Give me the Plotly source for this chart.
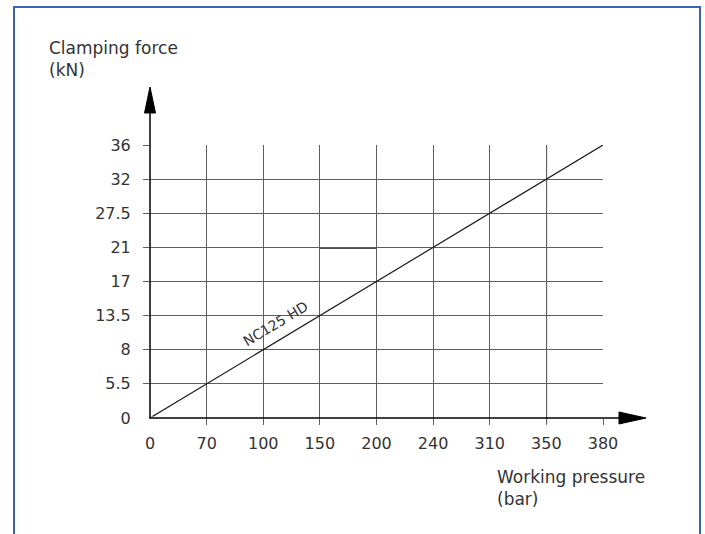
import plotly.graph_objects as go

# ---- data ----
pressure_labels = ["0", "70", "100", "150", "200", "240", "310", "350", "380"]   # bar
force_labels = ["0", "5.5", "8", "13.5", "17", "21", "27.5", "32", "36"]          # kN
series_name = "NC125 HD"
series_pressure = ["0", "70", "100", "150", "200", "240", "310", "350", "380"]
series_force = ["0", "5.5", "8", "13.5", "17", "21", "27.5", "32", "36"]
x_title = "Working pressure<br>(bar)"
y_title = "Clamping force<br>(kN)"

# ---- layout geometry (pixels) ----
W, H = 705, 534
L, R, T, B = 150, 102, 145, 116
PW, PH = W - L - R, H - T - B


def px(x):
    return (x - L) / PW


def py(y):
    return (H - B - y) / PH


FONT = "DejaVu Sans"
TXT = "#333333"
GRID = "#5e5e5e"
BLUE = "#3d64b4"

fig = go.Figure()
fig.add_trace(go.Scatter(
    x=series_pressure, y=series_force, mode="lines", name=series_name,
    line=dict(color="#1a1a1a", width=1.2), showlegend=False, hoverinfo="skip"))

axis_common = dict(
    type="category", showgrid=True, gridcolor=GRID, gridwidth=1,
    zeroline=False, showline=False, ticks="outside", ticklen=6,
    tickcolor=GRID, tickwidth=1, tickfont=dict(family=FONT, size=16, color=TXT),
    range=[0, 8], fixedrange=True)

fig.update_xaxes(categoryorder="array", categoryarray=pressure_labels, ticklabelstandoff=5, **axis_common)
fig.update_yaxes(categoryorder="array", categoryarray=force_labels, ticklabelstandoff=9, **axis_common)

shapes = []
line_blue = dict(color=BLUE, width=2)
# frame
shapes.append(dict(type="line", xref="paper", yref="paper", x0=px(14), x1=px(14), y0=py(7), y1=py(540), line=line_blue, layer="above"))
shapes.append(dict(type="line", xref="paper", yref="paper", x0=px(700), x1=px(700), y0=py(7), y1=py(540), line=line_blue, layer="above"))
shapes.append(dict(type="line", xref="paper", yref="paper", x0=px(13), x1=px(701), y0=py(7), y1=py(7), line=line_blue, layer="above"))
# hide tick stubs at origin
shapes.append(dict(type="rect", xref="paper", yref="paper", x0=px(140), x1=px(153), y0=py(416.5), y1=py(427),
                   fillcolor="white", line=dict(width=0), layer="above"))
# mask behind series label
mask_pts = [(261.5, 348.5), (301, 325), (301, 314), (265, 314), (261.5, 317.5)]
path = "M " + " L ".join(f"{px(a):.5f},{py(b):.5f}" for a, b in mask_pts) + " Z"
shapes.append(dict(type="path", xref="paper", yref="paper", path=path,
                   fillcolor="white", line=dict(width=0), layer="between"))
# darker grid segments
shapes.append(dict(type="line", xref="paper", yref="paper", x0=px(546.6), x1=px(546.6), y0=py(145), y1=py(424),
                   line=dict(color="#111111", width=1), layer="between"))
shapes.append(dict(type="line", xref="paper", yref="paper", x0=px(320), x1=px(376.5), y0=py(248), y1=py(248),
                   line=dict(color="#111111", width=1.3), layer="between"))
# axes with arrows
shapes.append(dict(type="line", xref="paper", yref="paper", x0=px(150), x1=px(150), y0=py(418.5), y1=py(110),
                   line=dict(color="black", width=1.5), layer="above"))
shapes.append(dict(type="line", xref="paper", yref="paper", x0=px(149.5), x1=px(622), y0=py(418), y1=py(418),
                   line=dict(color="black", width=1.5), layer="above"))
tri_y = [(144.5, 113), (150, 87), (155.5, 113)]
tri_x = [(619, 412), (646, 418), (619, 424)]
for tri in (tri_y, tri_x):
    p = "M " + " L ".join(f"{px(a):.5f},{py(b):.5f}" for a, b in tri) + " Z"
    shapes.append(dict(type="path", xref="paper", yref="paper", path=p,
                       fillcolor="black", line=dict(color="black", width=1), layer="above"))

annotations = [
    dict(text=y_title, xref="paper", yref="paper", x=px(47), y=py(36), xanchor="left", yanchor="top",
         align="left", showarrow=False, font=dict(family=FONT, size=17, color=TXT)),
    dict(text=x_title, xref="paper", yref="paper", x=px(495), y=py(465), xanchor="left", yanchor="top",
         align="left", showarrow=False, font=dict(family=FONT, size=17, color=TXT)),
    dict(text=series_name, xref="paper", yref="paper", x=px(275), y=py(323.5), xanchor="center", yanchor="middle",
         textangle=-31, showarrow=False, font=dict(family=FONT, size=14, color=TXT)),
]

fig.update_layout(
    width=W, height=H, margin=dict(l=L, r=R, t=T, b=B, pad=0),
    paper_bgcolor="white", plot_bgcolor="white",
    shapes=shapes, annotations=annotations, showlegend=False,
    font=dict(family=FONT, color=TXT),
)

fig.write_html("out.html", config={"displayModeBar": False, "staticPlot": True},
               post_script="document.body.style.margin='0';")
